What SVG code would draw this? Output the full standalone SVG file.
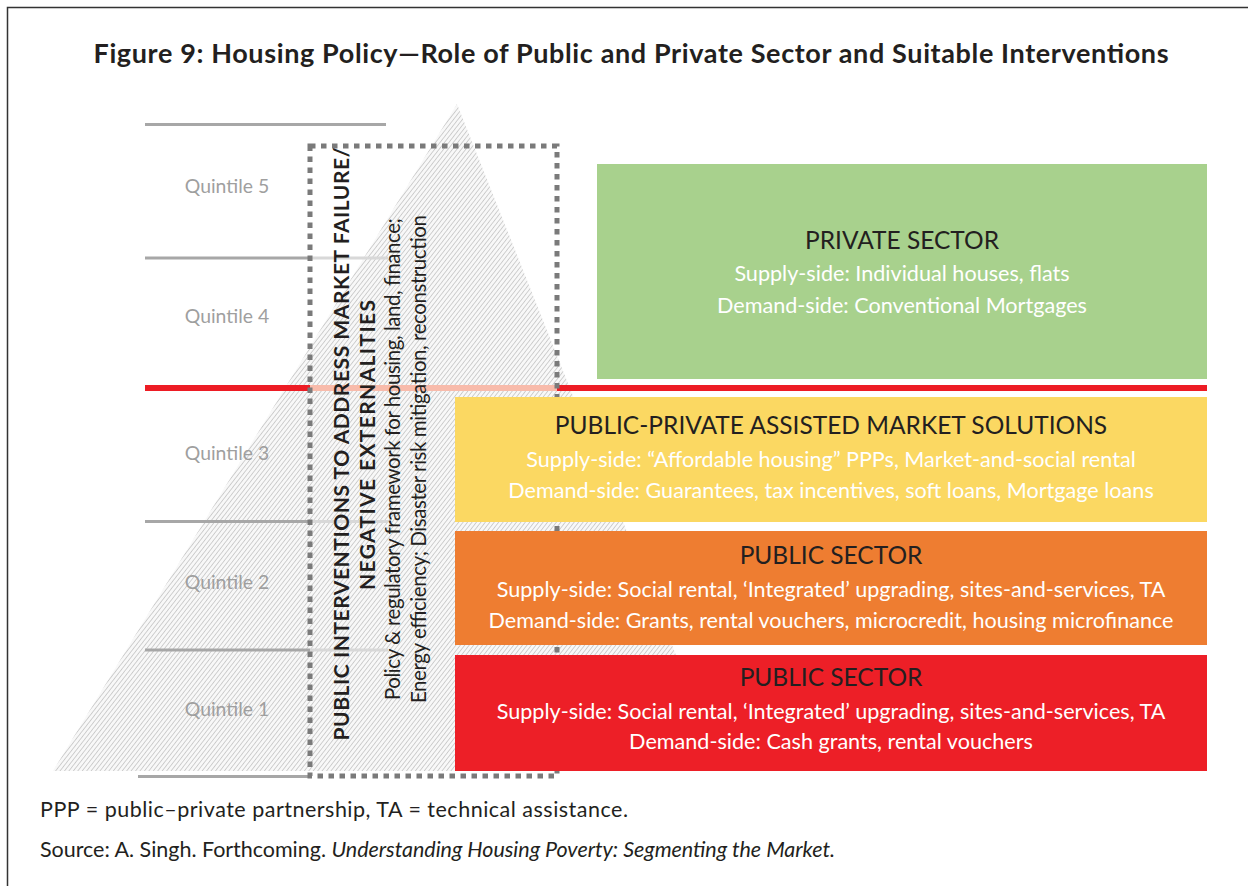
<svg xmlns="http://www.w3.org/2000/svg" width="1248" height="886" viewBox="0 0 1248 886">
<defs>
<pattern id="hatch" width="3.5" height="3.5" patternUnits="userSpaceOnUse" patternTransform="rotate(38)">
<rect width="3.5" height="3.5" fill="#f8f8f8"/>
<line x1="0" y1="0" x2="0" y2="3.5" stroke="#a8a8a8" stroke-width="1"/>
</pattern>
<style>
.t{font-family:Lato,"Open Sans","Liberation Sans",sans-serif;}
.title{font-weight:bold;font-size:27px;fill:#231f20;}
.q{font-size:19.4px;fill:#9f9f9f;}
.hd{font-size:24.5px;fill:#231f20;}
.ln{font-size:21.6px;fill:#ffffff;}
.vb{font-weight:bold;font-size:21px;fill:#231f20;}
.vr{font-size:20.5px;fill:#231f20;}
.ft{font-size:21.5px;fill:#231f20;}
.gl{stroke:#a7a7a7;stroke-width:3;}
.gll{stroke:#d8d8d8;stroke-width:3;}
.dot{fill:none;stroke:#7a7a7a;stroke-width:5;stroke-dasharray:5.5 5.5;}
</style>
</defs>
<rect x="0" y="0" width="1248" height="886" fill="#ffffff"/>
<rect x="7.5" y="7.5" width="1260" height="900" fill="none" stroke="#333333" stroke-width="1.5"/>
<text class="t title" x="631" y="63" text-anchor="middle" textLength="1075">Figure 9: Housing Policy—Role of Public and Private Sector and Suitable Interventions</text>

<g id="pyramid">
<polygon points="457,104 53,771 722,771" fill="url(#hatch)"/>
</g>

<g id="connectors">
<line class="gl" x1="145" y1="124.5" x2="386" y2="124.5"/>
<line class="gl" x1="145" y1="258" x2="310" y2="258"/>
<line class="gll" x1="310" y1="258" x2="388" y2="258"/>
<line class="gl" x1="145" y1="521.5" x2="310" y2="521.5"/>
<line class="gll" x1="310" y1="521.5" x2="388" y2="521.5"/>
<line class="gl" x1="145" y1="650" x2="310" y2="650"/>
<line class="gll" x1="310" y1="650" x2="388" y2="650"/>
<line class="gl" x1="138" y1="776.5" x2="310" y2="776.5"/>
<rect x="145" y="385" width="165" height="6" fill="#ed1c24"/>
<rect x="310" y="385" width="247" height="6" fill="#f8bbab"/>
<rect x="557" y="385" width="650" height="6" fill="#ed1c24"/>
</g>

<g id="quintiles">
<text class="t q" x="227" y="193" text-anchor="middle">Quintile 5</text>
<text class="t q" x="227" y="323" text-anchor="middle">Quintile 4</text>
<text class="t q" x="227" y="460" text-anchor="middle">Quintile 3</text>
<text class="t q" x="227" y="589" text-anchor="middle">Quintile 2</text>
<text class="t q" x="227" y="716" text-anchor="middle">Quintile 1</text>
</g>

<g id="interventions">
<rect class="dot" x="310" y="146" width="247" height="630"/>
<text class="t vb" transform="translate(349 444) rotate(-90)" text-anchor="middle" textLength="593">PUBLIC INTERVENTIONS TO ADDRESS MARKET FAILURE/</text>
<text class="t vb" transform="translate(375 445) rotate(-90)" text-anchor="middle" textLength="290">NEGATIVE EXTERNALITIES</text>
<text class="t vr" transform="translate(400 459) rotate(-90)" text-anchor="middle" textLength="482">Policy &amp; regulatory framework for housing, land, finance;</text>
<text class="t vr" transform="translate(426 459) rotate(-90)" text-anchor="middle" textLength="488">Energy efficiency; Disaster risk mitigation, reconstruction</text>
</g>

<g id="private-sector">
<rect x="597" y="164" width="610" height="215" fill="#a8d18d"/>
<text class="t hd" x="902" y="249" text-anchor="middle">PRIVATE SECTOR</text>
<text class="t ln" x="902" y="281" text-anchor="middle">Supply-side: Individual houses, flats</text>
<text class="t ln" x="902" y="313" text-anchor="middle">Demand-side: Conventional Mortgages</text>
</g>

<g id="public-private">
<rect x="455" y="397" width="752" height="125" fill="#fbd862"/>
<text class="t hd" x="831" y="434" text-anchor="middle">PUBLIC-PRIVATE ASSISTED MARKET SOLUTIONS</text>
<text class="t ln" x="831" y="467" text-anchor="middle">Supply-side: “Affordable housing” PPPs, Market-and-social rental</text>
<text class="t ln" x="831" y="498" text-anchor="middle">Demand-side: Guarantees, tax incentives, soft loans, Mortgage loans</text>
</g>

<g id="public-sector-2">
<rect x="455" y="531" width="752" height="114" fill="#ee7d31"/>
<text class="t hd" x="831" y="564" text-anchor="middle">PUBLIC SECTOR</text>
<text class="t ln" x="831" y="597" text-anchor="middle">Supply-side: Social rental, ‘Integrated’ upgrading, sites-and-services, TA</text>
<text class="t ln" x="831" y="628" text-anchor="middle">Demand-side: Grants, rental vouchers, microcredit, housing microfinance</text>
</g>

<g id="public-sector-1">
<rect x="455" y="655" width="752" height="116" fill="#ed1f27"/>
<text class="t hd" x="831" y="686" text-anchor="middle">PUBLIC SECTOR</text>
<text class="t ln" x="831" y="719" text-anchor="middle">Supply-side: Social rental, ‘Integrated’ upgrading, sites-and-services, TA</text>
<text class="t ln" x="831" y="749" text-anchor="middle">Demand-side: Cash grants, rental vouchers</text>
</g>

<g id="footer">
<text class="t ft" x="40" y="817" textLength="588">PPP = public–private partnership, TA = technical assistance.</text>
<text class="t ft" x="40" y="857" textLength="795">Source: A. Singh. Forthcoming. <tspan font-style="italic">Understanding Housing Poverty: Segmenting the Market.</tspan></text>
</g>
</svg>
